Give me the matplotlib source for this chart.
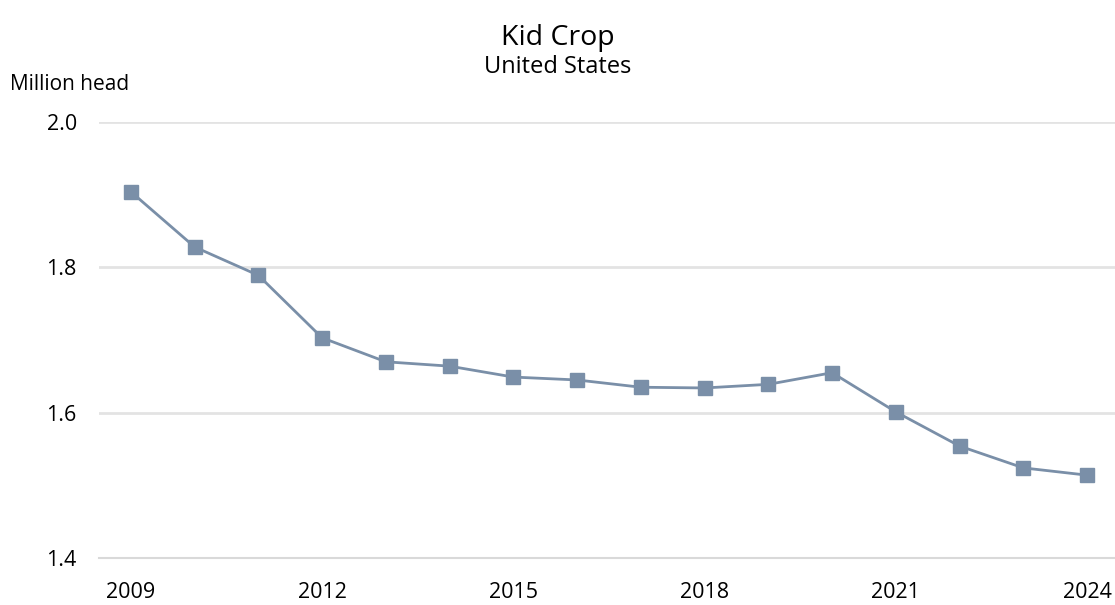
from matplotlib import pyplot as plt

years = list(range(2009, 2025))
kid_crop = [1.904, 1.828, 1.789, 1.703, 1.670, 1.664, 1.649, 1.645,
            1.635, 1.634, 1.639, 1.655, 1.601, 1.554, 1.524, 1.514]
y_ticks = [1.4, 1.6, 1.8, 2.0]
x_ticks = [2009, 2012, 2015, 2018, 2021, 2024]

plt.rcParams['font.family'] = ['Open Sans', 'DejaVu Sans']

fig = plt.figure(figsize=(11.15, 6.05), dpi=100)
ax = fig.add_axes([99 / 1115, 1 - 558 / 605, 1020 / 1115, 436 / 605])

ax.plot(years, kid_crop, color='#7a8fa8', linewidth=2, marker='s',
        markersize=10.5, markerfacecolor='#7a8fa8', markeredgecolor='#7a8fa8')

ax.set_xlim(2008.5, 2024.5)
ax.set_ylim(1.4, 2.0)
ax.set_yticks(y_ticks)
ax.set_yticklabels(['%0.1f' % v for v in y_ticks])
ax.set_xticks(x_ticks)
ax.set_xticklabels([str(v) for v in x_ticks])
ax.tick_params(length=0, labelsize=15.5, colors='black')
ax.tick_params(axis='y', pad=16)
ax.tick_params(axis='x', pad=17)

for v in y_ticks[1:]:
    ax.axhline(v, color='#e3e3e3', linewidth=2, zorder=0)
for side in ['top', 'right', 'left']:
    ax.spines[side].set_visible(False)
ax.spines['bottom'].set_color('#d9d9d9')
ax.spines['bottom'].set_linewidth(1.5)

fig.text(0.5, 1 - 38 / 605, 'Kid Crop', ha='center', va='center', fontsize=20.5)
fig.text(0.5, 1 - 67 / 605, 'United States', ha='center', va='center', fontsize=17)
fig.text(10 / 1115, 1 - 84 / 605, 'Million head', ha='left', va='center', fontsize=15)

plt.savefig('out.png')
